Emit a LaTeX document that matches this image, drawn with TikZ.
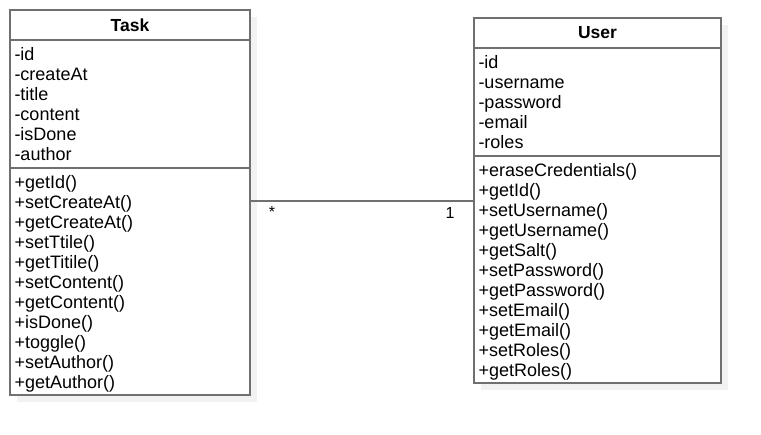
\documentclass[tikz,border=0pt]{standalone}
\usepackage{fontspec}
\setmainfont{Liberation Sans}
\usetikzlibrary{positioning,backgrounds}
\definecolor{umlline}{HTML}{707070}
\definecolor{umlshadow}{HTML}{F2F2F2}

\begin{document}
\begin{tikzpicture}[x=1pt, y=-1pt,
  box/.style={draw=umlline, line width=1.1pt, fill=white, inner xsep=4.5pt, inner ysep=0pt, outer sep=0pt},
  hdr/.style={box, minimum height=30pt, font=\fontsize{17.5}{20}\selectfont\bfseries},
  part/.style={box, anchor=north, align=left, font=\fontsize{18}{20}\selectfont},
  mult/.style={font=\fontsize{16}{20}\selectfont, inner sep=0pt},
  shade/.style={fill=umlshadow}]
\useasboundingbox (0,0) rectangle (761,435);
% class Task
\node[hdr, minimum width=240pt] (task) at (130,25) {Task};
\node[part, minimum width=240pt, text width=231pt, minimum height=128pt, below=0pt of task] (taskA)
  {-id\\-createAt\\-title\\-content\\-isDone\\-author};
\node[part, minimum width=240pt, text width=231pt, minimum height=227pt, below=0pt of taskA] (taskM)
  {\rule{0pt}{18pt}+getId()\\+setCreateAt()\\+getCreateAt()\\+setTtile()\\+getTitile()\\+setContent()\\+getContent()\\+isDone()\\+toggle()\\+setAuthor()\\+getAuthor()};
% class User
\node[hdr, minimum width=247pt] (user) at (597.5,33) {User};
\node[part, minimum width=247pt, text width=238pt, minimum height=108pt, below=0pt of user] (userA)
  {-id\\-username\\-password\\-email\\-roles};
\node[part, minimum width=247pt, text width=238pt, minimum height=227pt, below=0pt of userA] (userM)
  {\rule{0pt}{18pt}+eraseCredentials()\\+getId()\\+setUsername()\\+getUsername()\\+getSalt()\\+setPassword()\\+getPassword()\\+setEmail()\\+getEmail()\\+setRoles()\\+getRoles()};
% shadows
\begin{scope}[on background layer]
\fill[shade] ([shift={(7,7)}]task.north west) rectangle ([shift={(7,7)}]taskM.south east);
\fill[shade] ([shift={(7,7)}]user.north west) rectangle ([shift={(7,7)}]userM.south east);
\end{scope}
% association
\coordinate (link) at (0,201);
\draw[umlline, line width=1.1pt] (taskM.east |- link) -- (userM.west |- link);
\node[mult] (many) at (272,212) {*};
\node[mult] (one) at (450,213) {1};
\end{tikzpicture}
\end{document}
